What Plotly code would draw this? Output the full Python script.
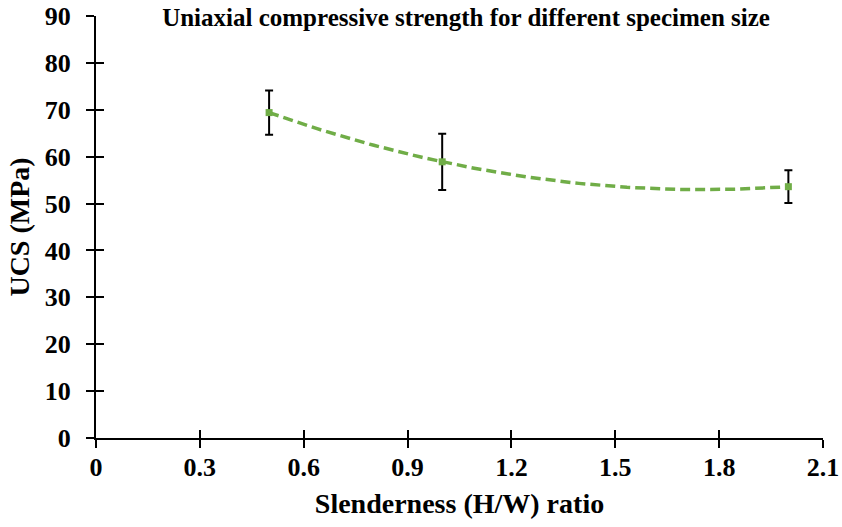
import numpy as np
import plotly.graph_objects as go

ratio = [0.5, 1.0, 2.0]
ucs = [69.4, 58.9, 53.6]
ucs_err = [4.7, 6.0, 3.5]

x_ticks = [0, 0.3, 0.6, 0.9, 1.2, 1.5, 1.8, 2.1]
x_tick_labels = ["0", "0.3", "0.6", "0.9", "1.2", "1.5", "1.8", "2.1"]
y_ticks = [0, 10, 20, 30, 40, 50, 60, 70, 80, 90]

title_text = "Uniaxial compressive strength for different specimen size"
x_title = "Slenderness (H/W) ratio"
y_title = "UCS (MPa)"

FONT = "Liberation Serif, Times New Roman, serif"
GREEN = "#70AD47"

# 2nd-order polynomial trendline fitted to the data (as in the original spreadsheet chart)
coef = np.polyfit(ratio, ucs, 2)
trend_x = np.linspace(min(ratio), max(ratio), 120)
trend_y = np.polyval(coef, trend_x)

fig = go.Figure()
fig.add_trace(go.Scatter(
    x=trend_x, y=trend_y, mode="lines",
    line=dict(color=GREEN, width=3.5, dash="10px,5px"),
    showlegend=False, hoverinfo="skip",
))
fig.add_trace(go.Scatter(
    x=ratio, y=ucs,
    mode="markers",
    marker=dict(color=GREEN, size=7, symbol="square"),
    error_y=dict(type="data", array=ucs_err, visible=True, color="black", thickness=2, width=4),
    showlegend=False,
))
# trace on the overlay axes (they carry the inner half of the crossing ticks)
fig.add_trace(go.Scatter(x=[ratio[0]], y=[ucs[0]], xaxis="x2", yaxis="y2", mode="markers",
                         marker=dict(color=GREEN, size=1), showlegend=False, hoverinfo="skip"))

axis_common = dict(showgrid=False, zeroline=False, showline=True, linecolor="black", linewidth=2,
                   ticks="outside", ticklen=8, tickwidth=2, tickcolor="black", automargin=False,
                   tickfont=dict(family=FONT, size=26, color="black"))

fig.update_layout(
    width=842, height=527,
    margin=dict(l=96, r=19, t=16, b=89),
    paper_bgcolor="white", plot_bgcolor="white",
    font=dict(family=FONT, color="black"),
    title=dict(text="<b>" + title_text + "</b>", x=0.5535, xanchor="center", y=0.967, yanchor="middle",
               font=dict(family=FONT, size=25, color="black")),
    xaxis=dict(range=[0, 2.1], tickvals=x_ticks, ticktext=["<b>%s</b>" % t for t in x_tick_labels],
               ticklabelstandoff=-3,
               title=dict(text="<b>" + x_title + "</b>", font=dict(family=FONT, size=28, color="black"), standoff=12),
               **axis_common),
    yaxis=dict(range=[0, 90], tickvals=y_ticks, ticktext=["<b>%d</b>" % t for t in y_ticks],
               ticklabelstandoff=10,
               title=dict(text="<b>" + y_title + "</b>", font=dict(family=FONT, size=28, color="black"), standoff=7),
               **axis_common),
    xaxis2=dict(range=[0, 2.1], overlaying="x", anchor="y", side="bottom", tickvals=x_ticks,
                showticklabels=False, showgrid=False, zeroline=False, showline=False,
                ticks="inside", ticklen=8, tickwidth=2, tickcolor="black"),
    yaxis2=dict(range=[0, 90], overlaying="y", anchor="x", side="left", tickvals=y_ticks,
                showticklabels=False, showgrid=False, zeroline=False, showline=False,
                ticks="inside", ticklen=8, tickwidth=2, tickcolor="black"),
)

fig.write_html("out.html")
